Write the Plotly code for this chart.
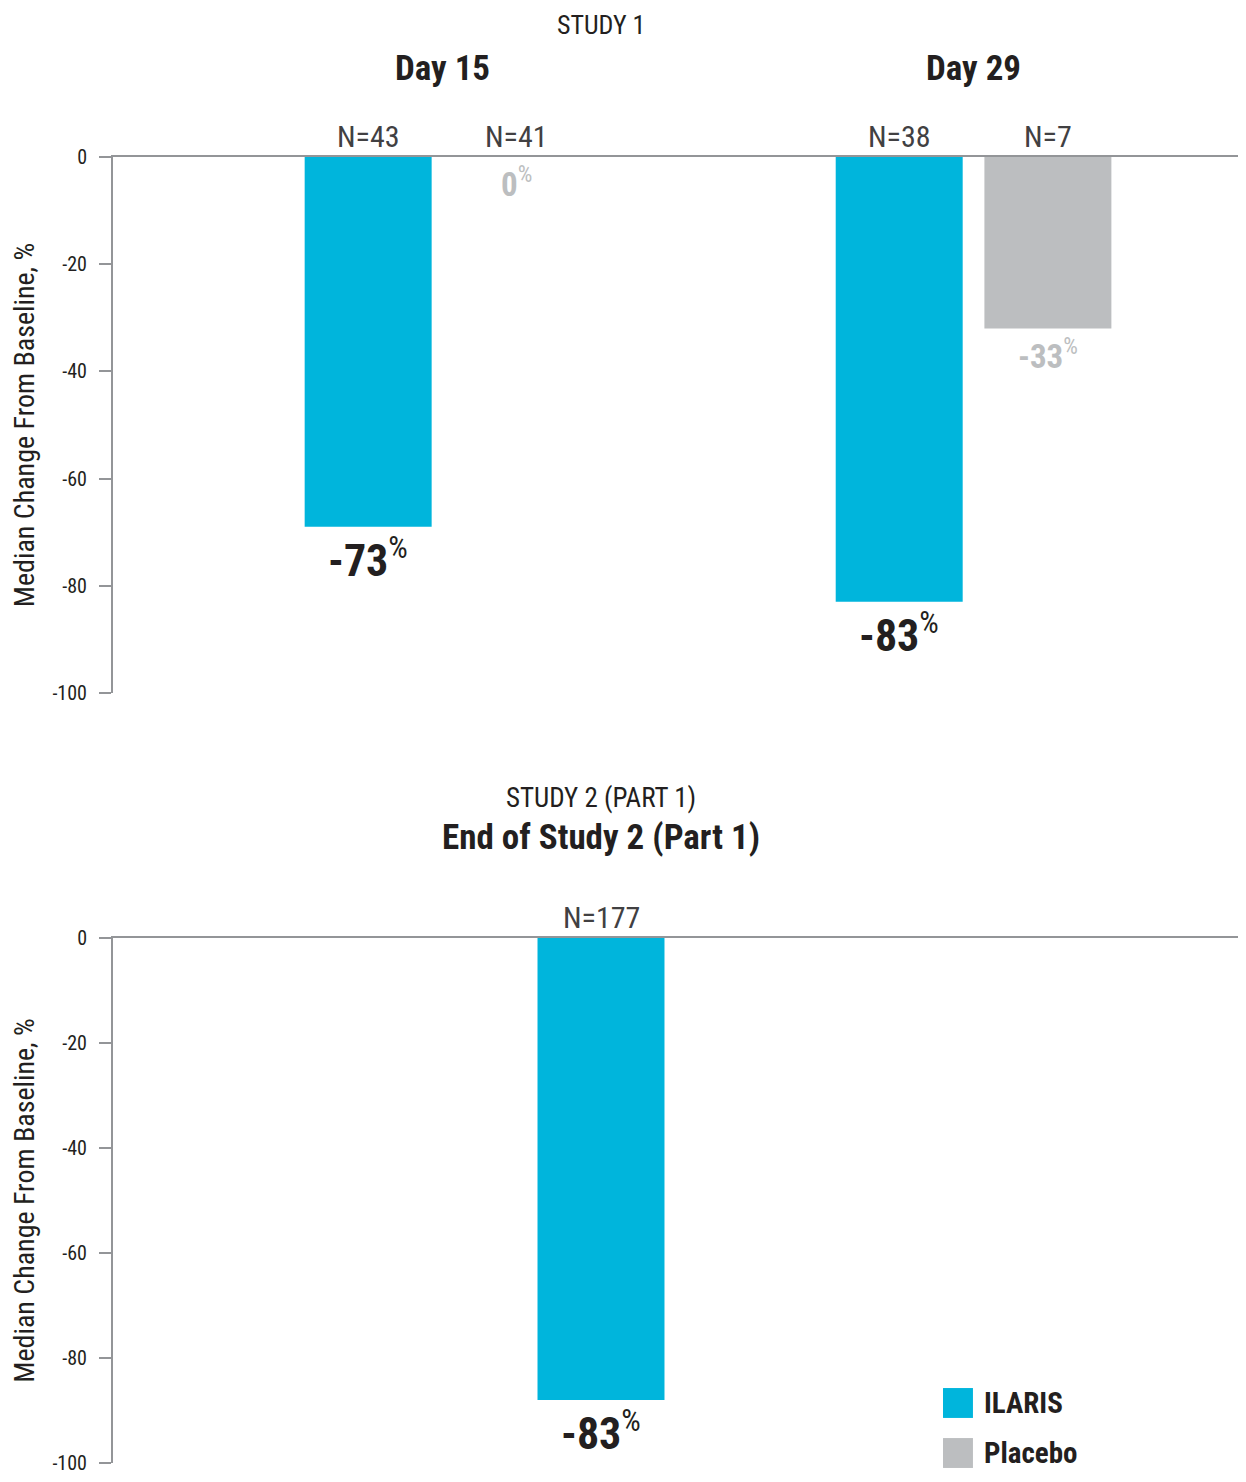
import plotly.graph_objects as go

# --- Données ---
days = ["Day 15", "Day 29"]
ilaris_s1 = [-69, -83]          # longueur des barres
placebo_s1 = [0, -32]
ilaris_s1_txt = ["-73", "-83"]  # étiquettes affichées
placebo_s1_txt = ["0", "-33"]
ilaris_s1_n = ["N=43", "N=38"]
placebo_s1_n = ["N=41", "N=7"]

study2_cat = ["End of Study 2 (Part 1)"]
ilaris_s2 = [-88]
ilaris_s2_txt = ["-83"]
ilaris_s2_n = ["N=177"]

y_ticks = [0, -20, -40, -60, -80, -100]
y_ticktext = ["0", "-20", "-40", "-60", "-80", "-100"]

# --- Style ---
BLUE = "#00B5DC"
GREY = "#BCBEC0"
AXIS = "#939598"
DARK = "#231F20"
N_COLOR = "#414042"
FONT = "Roboto Condensed, Liberation Sans Narrow, Roboto, sans-serif"

BARGAP = 0.44
BARGROUPGAP = 0.146
OFF = (1 - BARGAP) / 4                 # décalage du centre de barre dans un groupe
BAR_W = (1 - BARGAP) / 2 * (1 - BARGROUPGAP)

fig = go.Figure()

fig.add_trace(go.Bar(x=days, y=ilaris_s1, name="ILARIS", marker=dict(color=BLUE, line=dict(width=0)),
                     xaxis="x", yaxis="y"))
fig.add_trace(go.Bar(x=days, y=placebo_s1, name="Placebo", marker=dict(color=GREY, line=dict(width=0)),
                     xaxis="x", yaxis="y"))
fig.add_trace(go.Bar(x=study2_cat, y=ilaris_s2, name="ILARIS", width=BAR_W,
                     marker=dict(color=BLUE, line=dict(width=0)),
                     xaxis="x2", yaxis="y2"))

ann = []

def label_n(x, txt, xref, yref):
    ann.append(dict(x=x, y=0, xref=xref, yref=yref, text=txt, showarrow=False,
                    yanchor="bottom", yshift=1, font=dict(size=30, color=N_COLOR)))

def label_val(x, y, txt, xref, yref, big=True):
    if big:
        ann.append(dict(x=x, y=y, xref=xref, yref=yref, showarrow=False, yanchor="top", yshift=0,
                        text=f"<b>{txt}</b><sup>%</sup>", font=dict(size=44, color=DARK)))
    else:
        ann.append(dict(x=x, y=y, xref=xref, yref=yref, showarrow=False, yanchor="top", yshift=-2,
                        text=f"<b>{txt}</b><sup>%</sup>", font=dict(size=33, color=GREY)))

for i, d in enumerate(days):
    ann.append(dict(x=i, y=1.0674, xref="x", yref="paper", yanchor="middle", text=f"<b>{d}</b>",
                    showarrow=False, font=dict(size=35, color=DARK)))
    label_n(i - OFF, ilaris_s1_n[i], "x", "y")
    label_n(i + OFF, placebo_s1_n[i], "x", "y")
    label_val(i - OFF, ilaris_s1[i], ilaris_s1_txt[i], "x", "y")
    label_val(i + OFF, placebo_s1[i], placebo_s1_txt[i], "x", "y", big=False)

for i, c in enumerate(study2_cat):
    ann.append(dict(x=i, y=0.4786, xref="x2", yref="paper", yanchor="middle", text=f"<b>{c}</b>",
                    showarrow=False, font=dict(size=35, color=DARK)))
    label_n(i, ilaris_s2_n[i], "x2", "y2")
    label_val(i, ilaris_s2[i], ilaris_s2_txt[i], "x2", "y2")

ann.append(dict(x=0.4338, y=1.1011, xref="paper", yref="paper", yanchor="middle", text="STUDY 1",
                showarrow=False, font=dict(size=26, color=DARK)))
ann.append(dict(x=0.4338, y=0.5092, xref="paper", yref="paper", yanchor="middle", text="STUDY 2 (PART 1)",
                showarrow=False, font=dict(size=27, color=DARK)))

# Légende dessinée à la main (carrés + texte)
shapes = []
for nom, col, y0, y1, yt in [("ILARIS", BLUE, 0.0345, 0.0574, 0.0459),
                             ("Placebo", GREY, -0.0038, 0.0191, 0.0077)]:
    shapes.append(dict(type="rect", xref="paper", yref="paper", x0=0.7378, x1=0.7644, y0=y0, y1=y1,
                       fillcolor=col, line=dict(width=0)))
    ann.append(dict(x=0.7724, y=yt, xref="paper", yref="paper", text=f"<b>{nom}</b>", showarrow=False,
                    xanchor="left", yanchor="middle", font=dict(size=29, color=DARK)))

yax = dict(range=[-100, 0], tickvals=y_ticks, ticktext=y_ticktext, ticks="outside", ticklen=12,
           tickwidth=2, tickcolor=AXIS, showline=True, linecolor=AXIS, linewidth=2,
           showgrid=False, zeroline=False, ticklabelstandoff=8, ticklabeloverflow="allow",
           tickfont=dict(size=20, color=DARK),
           title=dict(text="Median Change From Baseline, %", font=dict(size=28, color=DARK), standoff=26))
xax = dict(side="top", showline=True, linecolor=AXIS, linewidth=2, showticklabels=False,
           ticks="", showgrid=False, zeroline=False)

fig.update_layout(
    width=1230, height=1466,
    margin=dict(l=105, r=0, t=149, b=11),
    paper_bgcolor="white", plot_bgcolor="white",
    font=dict(family=FONT, color=DARK),
    barmode="group", bargap=BARGAP, bargroupgap=BARGROUPGAP,
    xaxis=dict(xax, domain=[0, 1], anchor="y", range=[-0.6205, 1.498]),
    yaxis=dict(yax, domain=[0.5896, 1], anchor="x"),
    xaxis2=dict(xax, domain=[0, 1], anchor="y2", range=[-0.919, 1.1996]),
    yaxis2=dict(yax, domain=[0, 0.4020], anchor="x2"),
    annotations=ann, shapes=shapes,
    showlegend=False,
)

fig.write_html("out.html")
